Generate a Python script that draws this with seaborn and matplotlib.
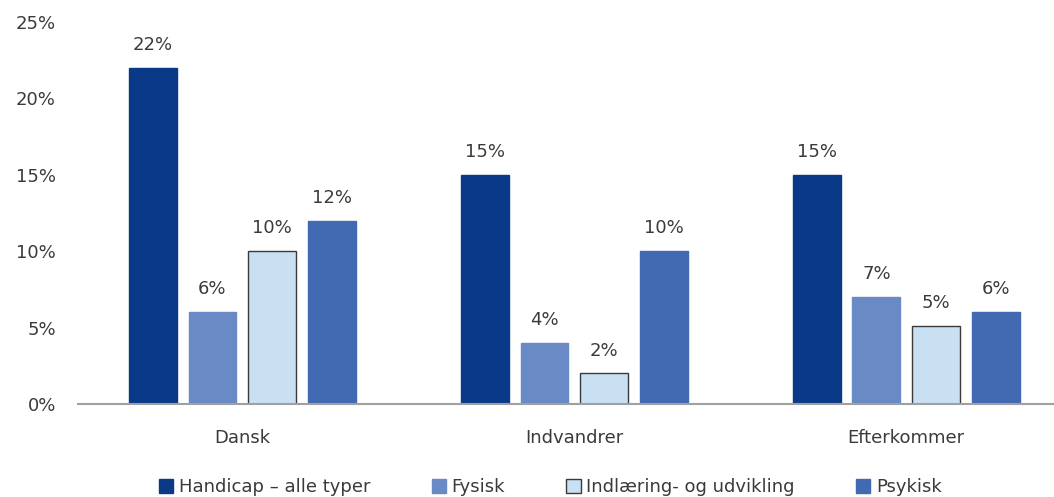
import matplotlib
matplotlib.use("Agg")
import matplotlib.pyplot as plt
import seaborn as sns
import pandas as pd
from matplotlib.patches import Patch

categories = ["Dansk", "Indvandrer", "Efterkommer"]
series = ["Handicap – alle typer", "Fysisk", "Indlæring- og udvikling", "Psykisk"]
handicap = [22, 15, 15]
fysisk = [6, 4, 7]
indlaering = [10, 2, 5.1]
psykisk = [12, 10, 6]
yticks = [0, 5, 10, 15, 20, 25]

colors = ["#0a3a87", "#6a8ac6", "#c9dff2", "#416ab3"]
edges = ["#0a3a87", "#6a8ac6", "#3a3a3a", "#416ab3"]

rows = []
for s, vals in zip(series, [handicap, fysisk, indlaering, psykisk]):
    for c, v in zip(categories, vals):
        rows.append({"cat": c, "series": s, "val": v})
df = pd.DataFrame(rows)

sns.set_theme(style="white")
plt.rcParams["font.family"] = ["DejaVu Sans"]
txt = "#3a3a3a"

fig = plt.figure(figsize=(10.54, 4.97), dpi=100)
ax = fig.add_axes([0.074, 0.187, 0.926, 0.769])
sns.barplot(data=df, x="cat", y="val", hue="series", order=categories,
            hue_order=series, palette=colors, width=0.72, gap=0.2,
            saturation=1, legend=False, ax=ax)

for cont, ec in zip(ax.containers, edges):
    for p in cont:
        p.set_edgecolor(ec)
        p.set_linewidth(1.0)
    ax.bar_label(cont, labels=[f"{p.get_height():.0f}%" for p in cont],
                 padding=10, fontsize=13, color=txt)

ax.set_ylim(0, 25)
ax.set_xlim(-0.495, 2.445)
ax.set_yticks(yticks)
ax.set_yticklabels([f"{t}%" for t in yticks], fontsize=13, color=txt)
ax.tick_params(axis="y", length=0, pad=16)
ax.tick_params(axis="x", length=0, pad=18, labelsize=13, labelcolor=txt)
ax.set_xlabel("")
ax.set_ylabel("")
for side in ["top", "right", "left"]:
    ax.spines[side].set_visible(False)
ax.spines["bottom"].set_color("#a0a0a0")
ax.spines["bottom"].set_linewidth(1.5)

handles = [Patch(facecolor=c, edgecolor=e, linewidth=1) for c, e in zip(colors, edges)]
fig.legend(handles, series, loc="center", bbox_to_anchor=(0.522, 0.02), ncol=4,
           frameon=False, handlelength=0.8, handleheight=0.8, handletextpad=0.3,
           columnspacing=3.4, fontsize=13, labelcolor=txt)

fig.savefig("out.png", dpi=100)
